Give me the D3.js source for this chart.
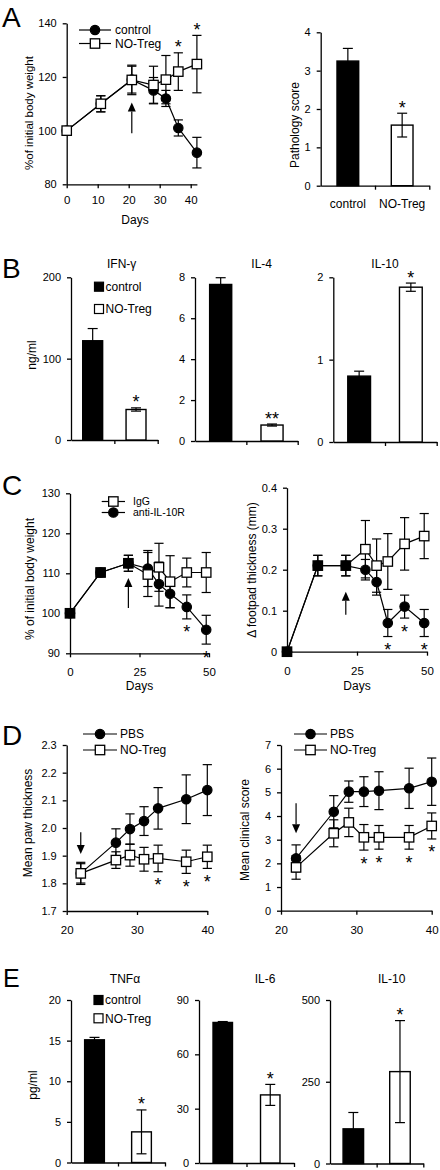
<!DOCTYPE html>
<html><head><meta charset="utf-8">
<script src="https://cdn.jsdelivr.net/npm/d3@7"></script>
<style>body{margin:0;background:#fff}svg{display:block}</style>
</head><body><svg id="c" width="440" height="1170"></svg>
<script>
// ================= DATA =================
// Panel A (left): body weight
const aDays = [0, 11, 21, 28, 32, 36, 42];
const aControl = [100, 110, 119, 115, 112, 101, 91.8];
const aControlErr = [0, 3, 5, 4.8, 3, 3, 5.7];
const aNoTreg = [100, 110, 118.9, 117, 119, 122, 124.8];
const aNoTregErr = [0, 3, 5.5, 7, 9, 7, 10.7];
const aStarDays = [36, 42];
const aArrow = [21, 99, 110.5];
const aYTicks = [80, 100, 120, 140];
const aXTicks = [0, 10, 20, 30, 40];
// Panel A (right): pathology score
const groupCats = ["control", "NO-Treg"];
const pathScore = [3.25, 1.58];
const pathErr = [0.33, 0.31];
const pathStars = ["", "*"];
const pathTicks = [0, 1, 2, 3, 4];
// Panel B: cytokines (ng/ml)
const ifnVals = [122, 37.5], ifnErr = [15, 2], ifnStars = ["", "*"], ifnTicks = [0, 100, 200];
const il4Vals = [7.65, 0.78], il4Err = [0.33, 0.05], il4Stars = ["", "**"], il4Ticks = [0, 2, 4, 6, 8];
const bIl10Vals = [0.8, 1.88], bIl10Err = [0.06, 0.05], bIl10Stars = ["", "*"], bIl10Ticks = [0, 1, 2];
// Panel C (left): body weight
const cDays = [0, 11, 21, 28, 32, 36, 42, 49];
const cIgG = [100, 110.2, 112.5, 109.7, 111.5, 107.9, 110.2, 110.2];
const cIgGErr = [0, 1, 2, 5.5, 6, 6.5, 3.6, 5];
const cAnti = [100, 110.2, 112.5, 111.2, 107.3, 104.9, 101.6, 95.9];
const cAntiErr = [0, 1, 2, 4.5, 5.5, 3.5, 3, 3.6];
const cStarDays = [42, 49];
const cArrow = [21, 101.3, 108.8];
const cYTicks = [90, 100, 110, 120, 130];
const cXTicks = [0, 25, 50];
// Panel C (right): footpad thickness
const cfIgG = [0, 0.21, 0.21, 0.25, 0.21, 0.22, 0.263, 0.282];
const cfIgGErr = [0, 0.025, 0.025, 0.07, 0.065, 0.068, 0.064, 0.055];
const cfAnti = [0, 0.21, 0.21, 0.2, 0.17, 0.07, 0.11, 0.07];
const cfAntiErr = [0, 0.025, 0.025, 0.025, 0.032, 0.033, 0.028, 0.033];
const cfStarDays = [36, 42, 49];
const cfArrow = [21, 0.09, 0.146];
const cfYTicks = [0, 0.1, 0.2, 0.3, 0.4];
// Panel D (left): paw thickness
const dDays = [22, 27, 29, 31, 33, 37, 40];
const dPBS = [1.836, 1.947, 1.996, 2.025, 2.071, 2.104, 2.137];
const dPBSErr = [0.04, 0.05, 0.055, 0.052, 0.075, 0.088, 0.092];
const dNoTreg = [1.836, 1.884, 1.902, 1.887, 1.89, 1.878, 1.896];
const dNoTregErr = [0.035, 0.03, 0.04, 0.043, 0.048, 0.042, 0.042];
const dStarDays = [33, 37, 40];
const dArrow = [22, 1.985, 1.906];
const dYTicks = [1.7, 1.8, 1.9, 2.0, 2.1, 2.2, 2.3];
const dXTicks = [20, 30, 40];
// Panel D (right): clinical score
const dcPBS = [2.21, 4.18, 5.03, 5.03, 5.07, 5.17, 5.45];
const dcPBSErr = [0.57, 0.68, 0.45, 0.63, 0.8, 0.85, 1.0];
const dcNoTreg = [1.83, 3.27, 3.73, 3.1, 3.1, 3.1, 3.58];
const dcNoTregErr = [0.5, 0.57, 0.6, 0.54, 0.5, 0.5, 0.55];
const dcStarDays = [31, 33, 37, 40];
const dcArrow = [22, 4.54, 3.27];
const dcYTicks = [0, 1, 2, 3, 4, 5, 6, 7];
// Panel E: cytokines (pg/ml)
const tnfVals = [15.1, 3.77], tnfErr = [0.3, 2.7], tnfStars = ["", "*"], tnfTicks = [0, 5, 10, 15, 20];
const il6Vals = [77.6, 37.6], il6Err = [0.5, 5.8], il6Stars = ["", "*"], il6Ticks = [0, 30, 60, 90];
const eIl10Vals = [106, 281], eIl10Err = [50, 156], eIl10Stars = ["", "*"], eIl10Ticks = [0, 250, 500];

// ================= DRAWING =================
const FONT = '"Liberation Sans", Arial, Helvetica, sans-serif';
const svg = d3.select("#c");
svg.append("rect").attr("width", 440).attr("height", 1170).attr("fill", "#fff");

function txt(x, y, s, size, anchor) {
  return svg.append("text").attr("x", x).attr("y", y).text(s)
    .attr("font-family", FONT).attr("font-size", size).attr("fill", "#000")
    .attr("text-anchor", anchor || "start");
}
function vlabel(x, y, s, size) {
  svg.append("text").attr("transform", `translate(${x},${y}) rotate(-90)`)
    .attr("text-anchor", "middle").attr("dominant-baseline", "central")
    .attr("font-family", FONT).attr("font-size", size || 12).attr("fill", "#000").text(s);
}
function styleAxis(g, fs) {
  g.attr("font-family", FONT).attr("font-size", fs || 11);
  g.select(".domain").attr("stroke", "#000").attr("stroke-width", 1.3);
  g.selectAll(".tick line").attr("stroke", "#000").attr("stroke-width", 1.3);
  g.selectAll(".tick text").attr("fill", "#000");
}
function marker(g, type, cx, cy, fill) {
  if (type === "circle") {
    g.append("circle").attr("cx", cx).attr("cy", cy).attr("r", 4.7)
      .attr("fill", fill || "#000").attr("stroke", "#000").attr("stroke-width", 1.2);
  } else {
    g.append("rect").attr("x", cx - 4.7).attr("y", cy - 4.7).attr("width", 9.4).attr("height", 9.4)
      .attr("fill", fill || "#fff").attr("stroke", "#000").attr("stroke-width", 1.3);
  }
}
function star(x, cy, s) {
  txt(x, cy + 10.5, s, 18, "middle");
}

function linePanel(o) {
  const x = d3.scaleLinear().domain(o.xDomain).range(o.xRange);
  const y = d3.scaleLinear().domain(o.yDomain).range(o.yRange);
  const g = svg.append("g");
  const ay = g.append("g").attr("transform", `translate(${o.xRange[0]},0)`)
    .call(d3.axisLeft(y).tickValues(o.yTicks).tickSizeInner(4).tickSizeOuter(0).tickPadding(6)
      .tickFormat(o.yFmt || d3.format("d")));
  styleAxis(ay, 11);
  const ax = g.append("g").attr("transform", `translate(0,${o.yRange[0]})`)
    .call(d3.axisBottom(x).tickValues(o.xTicks).tickSizeInner(4).tickSizeOuter(0).tickPadding(o.xPad || 8)
      .tickFormat(d3.format("d")));
  styleAxis(ax, 11.5);
  const line = d3.line().x(d => x(d[0])).y(d => y(d[1]));
  o.series.forEach(s => {
    g.append("path").attr("d", line(o.xs.map((d, i) => [d, s.ys[i]])))
      .attr("fill", "none").attr("stroke", "#000").attr("stroke-width", 1.2);
  });
  o.series.forEach(s => {
    o.xs.forEach((d, i) => {
      const e = s.es[i]; if (!e) return;
      const px = x(d), t = y(s.ys[i] + e), b = y(s.ys[i] - e);
      g.append("line").attr("x1", px).attr("x2", px).attr("y1", t).attr("y2", b).attr("stroke", "#000").attr("stroke-width", 1.2);
      [t, b].forEach(v => g.append("line").attr("x1", px - 4.6).attr("x2", px + 4.6).attr("y1", v).attr("y2", v).attr("stroke", "#000").attr("stroke-width", 1.2));
    });
  });
  o.series.forEach((s, si) => {
    o.xs.forEach((d, i) => {
      let fill = s.type === "circle" ? "#000" : "#fff";
      if (o.sharedBlack && s.type === "square") {
        const other = o.series[1 - si];
        if (other.ys[i] === s.ys[i]) fill = "#000";
      }
      marker(g, s.type, x(d), y(s.ys[i]), fill);
    });
  });
  o.stars.forEach(d => {
    const i = o.xs.indexOf(d);
    if (o.starPos === "above") {
      const top = d3.min(o.series, s => y(s.ys[i] + s.es[i]));
      star(x(d), top - 10, "*");
    } else {
      const bot = d3.max(o.series, s => y(s.ys[i] - s.es[i]));
      star(x(d), bot + 9, "*");
    }
  });
  if (o.arrow) {
    const [ad, from, to] = o.arrow;
    const px = x(ad), y1 = y(from), y2 = y(to);
    const dir = y2 < y1 ? 1 : -1;
    const head = 9;
    g.append("line").attr("x1", px).attr("x2", px).attr("y1", y1).attr("y2", y2 + dir * head)
      .attr("stroke", "#000").attr("stroke-width", 1.2);
    g.append("path").attr("d", `M${px},${y2} L${px - 4},${y2 + dir * head} L${px + 4},${y2 + dir * head} Z`).attr("fill", "#000");
  }
  if (o.legend) {
    const L = o.legend;
    L.items.forEach((it, k) => {
      const ly = L.ys[k];
      g.append("line").attr("x1", L.x0).attr("x2", L.x1).attr("y1", ly).attr("y2", ly).attr("stroke", "#000").attr("stroke-width", 1.2);
      marker(g, it.type, (L.x0 + L.x1) / 2, ly, it.type === "circle" ? "#000" : "#fff");
      txt(L.tx, ly + (L.fs || 12) * 0.36, it.label, L.fs || 12);
    });
  }
}

function barPanel(o) {
  const n = o.vals.length;
  const xb = d3.scaleBand().domain(d3.range(n)).range(o.xRange).paddingInner(o.pad).paddingOuter(o.pad / 2);
  const y = d3.scaleLinear().domain([o.yTicks[0], o.yTicks[o.yTicks.length - 1]]).range(o.yRange);
  const g = svg.append("g");
  const ay = g.append("g").attr("transform", `translate(${o.xRange[0]},0)`)
    .call(d3.axisLeft(y).tickValues(o.yTicks).tickSizeInner(4).tickSizeOuter(0).tickPadding(6).tickFormat(d3.format("d")));
  styleAxis(ay, 11);
  const xl = d3.scaleLinear().domain([0, n]).range(o.xRange);
  const ax = g.append("g").attr("transform", `translate(0,${o.yRange[0]})`)
    .call(d3.axisBottom(xl).tickValues(d3.range(1, n + 1)).tickSizeInner(4).tickSizeOuter(0).tickFormat(""));
  styleAxis(ax, 11);
  o.vals.forEach((v, i) => {
    const filled = i === 0;
    g.append("rect").attr("x", xb(i)).attr("width", xb.bandwidth())
      .attr("y", y(v)).attr("height", y(0) - y(v))
      .attr("fill", filled ? "#000" : "#fff").attr("stroke", "#000").attr("stroke-width", 1.4);
    const e = o.errs[i], cx = xb(i) + xb.bandwidth() / 2;
    const t = y(v + e), b = y(Math.max(0, v - e));
    g.append("line").attr("x1", cx).attr("x2", cx).attr("y1", t).attr("y2", b).attr("stroke", "#000").attr("stroke-width", 1.2);
    [t, b].forEach(vv => g.append("line").attr("x1", cx - 5).attr("x2", cx + 5).attr("y1", vv).attr("y2", vv).attr("stroke", "#000").attr("stroke-width", 1.2));
    if (o.stars[i]) star(cx, t - 10, o.stars[i]);
    if (o.catLabels) txt(cx, o.catY, o.catLabels[i], 12, "middle");
  });
  if (o.title) txt(o.title[0], o.title[1], o.title[2], 12, "middle");
  if (o.legend) {
    const L = o.legend;
    groupCats.forEach((c, k) => {
      const ly = L.ys[k];
      g.append("rect").attr("x", L.x).attr("y", ly - 4.5).attr("width", 9).attr("height", 9)
        .attr("fill", k === 0 ? "#000" : "#fff").attr("stroke", "#000").attr("stroke-width", 1.2);
      txt(L.x + 11, ly + 4.3, c, 12);
    });
  }
}

// Panel letters
[["A", 2, 27, 28], ["B", 2, 278, 28], ["C", 2, 495, 28], ["D", 2, 745, 28], ["E", 3, 987, 25]]
  .forEach(d => txt(d[1], d[2], d[0], d[3]));

// ---- A left
linePanel({
  xDomain: [0, 42], xRange: [66.7, 196.9], yDomain: [80, 140], yRange: [184.3, 23.3],
  xTicks: aXTicks, yTicks: aYTicks, xPad: 8, xs: aDays,
  series: [{ ys: aControl, es: aControlErr, type: "circle" }, { ys: aNoTreg, es: aNoTregErr, type: "square" }],
  stars: aStarDays, starPos: "above", arrow: aArrow,
  legend: { x0: 79, x1: 111, tx: 115, ys: [30, 43.5], items: [{ label: "control", type: "circle" }, { label: "NO-Treg", type: "square" }] }
});
vlabel(28.5, 113, "%of initial body weight", 11.5);
txt(135, 224, "Days", 12, "middle");

// ---- A right
barPanel({ xRange: [320.7, 429.3], yRange: [185.7, 32.3], yTicks: pathTicks, pad: 0.6,
  vals: pathScore, errs: pathErr, stars: pathStars, catLabels: groupCats, catY: 207.5 });
vlabel(295, 125, "Pathology score", 12);

// ---- B
barPanel({ xRange: [71, 157.7], yRange: [440, 277.3], yTicks: ifnTicks, pad: 0.54,
  vals: ifnVals, errs: ifnErr, stars: ifnStars, title: [121.7, 267.5, "IFN-\u03b3"],
  legend: { x: 94.5, ys: [286.7, 309] } });
vlabel(31.7, 355, "ng/ml", 12);
barPanel({ xRange: [195, 297.7], yRange: [441, 277.3], yTicks: il4Ticks, pad: 0.57,
  vals: il4Vals, errs: il4Err, stars: il4Stars, title: [261.7, 267.5, "IL-4"] });
barPanel({ xRange: [333.3, 436.7], yRange: [442, 277.3], yTicks: bIl10Ticks, pad: 0.56,
  vals: bIl10Vals, errs: bIl10Err, stars: bIl10Stars, title: [385, 267.5, "IL-10"] });

// ---- C left
linePanel({
  xDomain: [0, 50], xRange: [70, 209], yDomain: [90, 130], yRange: [653.3, 493.3],
  xTicks: cXTicks, yTicks: cYTicks, xPad: 11, xs: cDays, sharedBlack: true,
  series: [{ ys: cAnti, es: cAntiErr, type: "circle" }, { ys: cIgG, es: cIgGErr, type: "square" }],
  stars: cStarDays, starPos: "below", arrow: cArrow,
  legend: { x0: 101.7, x1: 125, tx: 133, fs: 10.5, ys: [501.5, 512.5], items: [{ label: "IgG", type: "square" }, { label: "anti-IL-10R", type: "circle" }] }
});
vlabel(30, 579, "% of initial body weight", 12);
txt(139.5, 689.5, "Days", 12, "middle");

// ---- C right
linePanel({
  xDomain: [0, 50], xRange: [287, 427], yDomain: [0, 0.4], yRange: [651.7, 487.7],
  xTicks: cXTicks, yTicks: cfYTicks, yFmt: v => v === 0 ? "0" : d3.format(".1f")(v), xPad: 11, xs: cDays, sharedBlack: true,
  series: [{ ys: cfAnti, es: cfAntiErr, type: "circle" }, { ys: cfIgG, es: cfIgGErr, type: "square" }],
  stars: cfStarDays, starPos: "below", arrow: cfArrow
});
vlabel(251.7, 570, "\u0394 footpad thickness (mm)", 12);
txt(357, 689.5, "Days", 12, "middle");

// ---- D left
linePanel({
  xDomain: [20, 40], xRange: [66.7, 207.3], yDomain: [1.7, 2.3], yRange: [911, 745],
  xTicks: dXTicks, yTicks: dYTicks, yFmt: d3.format(".1f"), xPad: 11, xs: dDays,
  series: [{ ys: dPBS, es: dPBSErr, type: "circle" }, { ys: dNoTreg, es: dNoTregErr, type: "square" }],
  stars: dStarDays, starPos: "below", arrow: dArrow,
  legend: { x0: 83, x1: 117, tx: 120, ys: [734, 750], items: [{ label: "PBS", type: "circle" }, { label: "NO-Treg", type: "square" }] }
});
vlabel(28, 823, "Mean paw thickness", 12);

// ---- D right
linePanel({
  xDomain: [20, 40], xRange: [281, 431.7], yDomain: [0, 7], yRange: [910.7, 745],
  xTicks: dXTicks, yTicks: dcYTicks, xPad: 11, xs: dDays,
  series: [{ ys: dcPBS, es: dcPBSErr, type: "circle" }, { ys: dcNoTreg, es: dcNoTregErr, type: "square" }],
  stars: dcStarDays, starPos: "below", arrow: dcArrow,
  legend: { x0: 294, x1: 327, tx: 330, ys: [734, 750], items: [{ label: "PBS", type: "circle" }, { label: "NO-Treg", type: "square" }] }
});
vlabel(245, 830, "Mean clinical score", 12);

// ---- E
barPanel({ xRange: [71, 165], yRange: [1162.5, 1000], yTicks: tnfTicks, pad: 0.58,
  vals: tnfVals, errs: tnfErr, stars: tnfStars, title: [125, 982.5, "TNF\u03b1"],
  legend: { x: 94, ys: [1000, 1018.3] } });
vlabel(33, 1085, "pg/ml", 12);
barPanel({ xRange: [199, 294], yRange: [1163, 1000], yTicks: il6Ticks, pad: 0.59,
  vals: il6Vals, errs: il6Err, stars: il6Stars, title: [265, 982.5, "IL-6"] });
barPanel({ xRange: [330, 423.3], yRange: [1163.5, 1000], yTicks: eIl10Ticks, pad: 0.56,
  vals: eIl10Vals, errs: eIl10Err, stars: eIl10Stars, title: [391.7, 982.5, "IL-10"] });
</script></body></html>
